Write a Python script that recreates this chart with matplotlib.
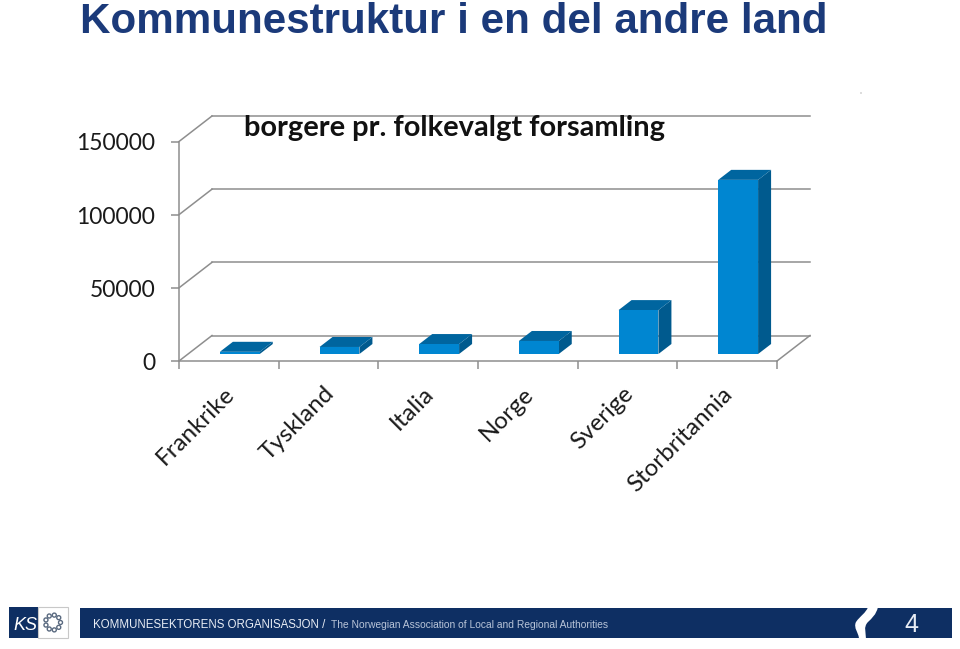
import numpy as np
import matplotlib
matplotlib.use("Agg")
import matplotlib.pyplot as plt
from matplotlib.patches import Polygon, Rectangle, Circle, PathPatch
from matplotlib.path import Path
from matplotlib.transforms import ScaledTranslation, IdentityTransform

countries = ["Frankrike", "Tyskland", "Italia", "Norge", "Sverige", "Storbritannia"]
values = [1500, 4800, 6800, 8900, 30000, 119000]
y_ticks = [0, 50000, 100000, 150000]

W, H = 960, 649
BLUE = "#0086D1"
TOP = "#00659F"
SIDE = "#005A8E"
GRID = "#8E8E8E"
NAVY = "#0E2F63"

plt.rcParams["font.family"] = ["Lato", "DejaVu Sans"]
fig = plt.figure(figsize=(W / 100, H / 100), dpi=100)


def fx(px):
    return px / W


def fy(py):
    return 1 - py / H


ax = fig.add_axes([fx(179), fy(361), (777 - 179) / W, (361 - 141.5) / H])
ax.set_xlim(-0.5, 5.5)
ax.set_ylim(0, 150000)
ax.patch.set_visible(False)


def shift(dx, dy):
    # pixel offset on top of the data scale, for the fake 3d look
    return ax.transData + ScaledTranslation(dx / 100, -dy / 100, fig.dpi_scale_trans)


back = shift(33, -25.5)
inv = fig.transFigure.inverted()
# walls and floor
for v in y_ticks:
    ax.plot([-0.5, 5.5], [v, v], color=GRID, lw=1.1, transform=back, clip_on=False)
    p0 = ax.transData.transform((-0.5, v))
    p1 = back.transform((-0.5, v))
    fig.add_artist(plt.Line2D(*zip(inv.transform(p0), inv.transform(p1)), color=GRID, lw=1.1))
p0 = ax.transData.transform((5.5, 0))
p1 = back.transform((5.5, 0))
fig.add_artist(plt.Line2D(*zip(inv.transform(p0), inv.transform(p1)), color=GRID, lw=1.1))

# bars: front face from the axes scale, top and side as offset polygons
bar_w = 0.4
lift = shift(7, -7)
depth = shift(20, -17)
for i, v in enumerate(values):
    xc = i + 0.04
    x0, x1 = xc - bar_w / 2, xc + bar_w / 2
    side = lift.transform([(x1, 0), (x1, v)]).tolist() + depth.transform([(x1, v), (x1, 0)]).tolist()
    top = lift.transform([(x0, v), (x1, v)]).tolist() + depth.transform([(x1, v), (x0, v)]).tolist()
    ax.add_patch(Polygon(side, closed=True, transform=IdentityTransform(), fc=SIDE, ec="none", clip_on=False, zorder=3))
    ax.add_patch(Polygon(top, closed=True, transform=IdentityTransform(), fc=TOP, ec="none", clip_on=False, zorder=3))
    ax.bar(xc, v, width=bar_w, color=BLUE, transform=lift, clip_on=False, zorder=4)

ax.set_xticks([x - 0.5 for x in range(7)])
ax.set_xticklabels([])
ax.set_yticks(y_ticks)
ax.set_yticklabels([str(v) for v in y_ticks], fontsize=16.5, color="#1a1a1a")
ax.tick_params(axis="both", color=GRID, width=1.1, length=6)
ax.tick_params(axis="y", pad=11.2)
for lab in ax.get_yticklabels():
    lab.set_transform(lab.get_transform() + ScaledTranslation(0, -0.5 / 100, fig.dpi_scale_trans))
for s in ["top", "right"]:
    ax.spines[s].set_visible(False)
for s in ["left", "bottom"]:
    ax.spines[s].set_color(GRID)
    ax.spines[s].set_linewidth(1.1)

# rotated category labels, ends anchored under each slot
for i, name in enumerate(countries):
    px, _ = inv.transform(ax.transData.transform((i + 0.05, 0)))
    fig.text(px - 10 / W, fy(383), name, rotation=45, ha="right", va="top", rotation_mode="anchor",
             fontsize=17.4, color="#1a1a1a")

fig.text(fx(80), fy(33), "Kommunestruktur i en del andre land", fontsize=30.35, fontweight="bold",
         family="Liberation Sans", color="#1B3A7A")
fig.text(fx(244), fy(136), "borgere pr. folkevalgt forsamling", fontsize=20.85, fontweight="bold",
         color="#111111")
fig.add_artist(Circle((861, H - 93), 0.6, transform=IdentityTransform(), fc="#888888", ec="none"))

# footer band
fig.add_artist(Rectangle((fx(9), fy(638)), 29 / W, 31 / H, transform=fig.transFigure, fc=NAVY, ec="none"))
fig.add_artist(Rectangle((fx(38), fy(638)), 30 / W, 31 / H, transform=fig.transFigure, fc="white", ec="#c8c8c8", lw=0.8))
fig.add_artist(Rectangle((fx(80), fy(638)), 872 / W, 30 / H, transform=fig.transFigure, fc=NAVY, ec="none"))
# white s-shaped cut near the page number
notch = [(868, 607), (878, 607),
         (876, 615), (872, 618), (868, 622),
         (863, 627), (866, 633), (866, 639),
         (859, 639),
         (859, 633), (853, 628), (856, 622),
         (860, 616), (866, 613), (868, 607)]
codes = [Path.MOVETO, Path.LINETO] + [Path.CURVE4] * 6 + [Path.LINETO] + [Path.CURVE4] * 6
fig.add_artist(PathPatch(Path([(x, H - y) for x, y in notch], codes), transform=IdentityTransform(), fc="white", ec="none"))
fig.text(fx(13), fy(630), "KS", fontsize=13, style="italic", color="white", family="Liberation Sans")
for a in np.arange(0, 360, 40):
    cx = 53 + 7.5 * np.cos(np.radians(a))
    cy = 622.5 + 7.5 * np.sin(np.radians(a))
    fig.add_artist(Circle((cx, H - cy), 2.0, transform=IdentityTransform(), fc="white", ec="#5a6a80", lw=1.0))
fig.text(fx(93), fy(628), "KOMMUNESEKTORENS ORGANISASJON /", fontsize=8.3, color="#e8edf5", family="Liberation Sans")
fig.text(fx(331), fy(628), "The Norwegian Association of Local and Regional Authorities", fontsize=7.4, color="#b8c4d8", family="Liberation Sans")
fig.text(fx(911), fy(632), "4", fontsize=18, ha="center", color="#e8edf5", family="Liberation Sans")

fig.savefig("out.png", dpi=100)
